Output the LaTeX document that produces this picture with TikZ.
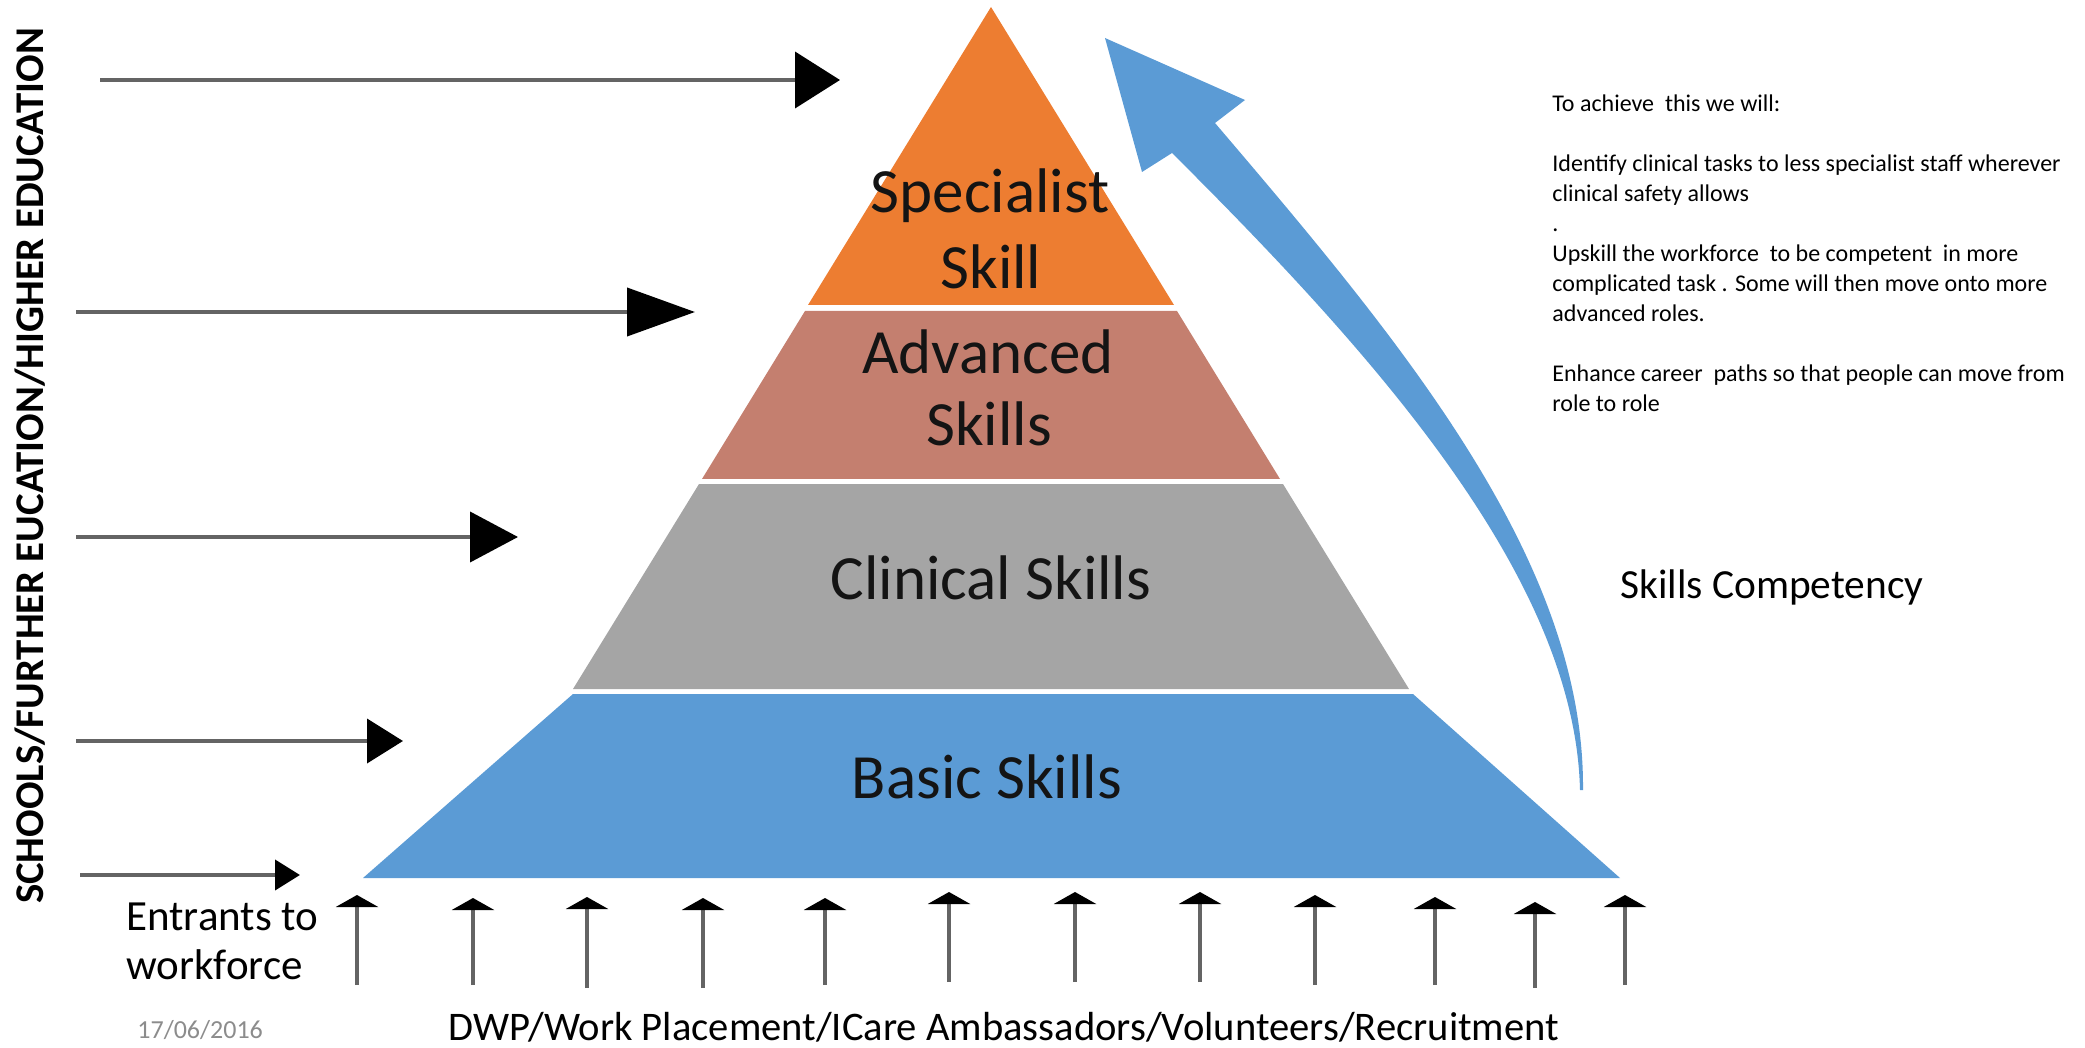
\documentclass[tikz,border=0pt]{standalone}
\usepackage{fontspec}
\setmainfont{Carlito}
\usetikzlibrary{arrows.meta}

\definecolor{specfill}{HTML}{ED7D31}
\definecolor{advfill}{RGB}{196,127,111}
\definecolor{clinfill}{HTML}{A5A5A5}
\definecolor{basicfill}{HTML}{5B9BD5}
\definecolor{shaftgray}{RGB}{100,100,100}
\definecolor{dategray}{RGB}{140,140,140}
\definecolor{labelink}{RGB}{20,20,20}

\begin{document}
\begin{tikzpicture}[x=0.5pt,y=-0.5pt,
  tierlabel/.style={anchor=base, inner sep=0pt, text=labelink, font=\fontsize{31.5}{36}\selectfont},
  plainlabel/.style={anchor=base west, inner sep=0pt, font=\fontsize{21.5}{25}\selectfont},
  feeder/.style={draw=shaftgray, line width=2pt},
  entry/.style={draw=shaftgray, line width=2pt,
    -{Triangle[length=6pt, width=21pt, color=black]}},
]
\useasboundingbox (0,0) rectangle (2085,1048);

% pyramid tiers
\fill[specfill]  (991,7) -- (1174,305) -- (808,305) -- cycle;
\fill[advfill]   (805,311) -- (1177,311) -- (1280,479) -- (702,479) -- cycle;
\fill[clinfill]  (699,484) -- (1283,484) -- (1409,689) -- (573,689) -- cycle;
\fill[basicfill] (573,694) -- (1413,694) -- (1620,878) -- (363,878) -- cycle;

% tier labels
\node[tierlabel] (spec1) at (990,213) {Specialist};
\node[tierlabel] (spec2) at (991,289) {Skill};
\node[tierlabel] (adv1)  at (988,374) {Advanced};
\node[tierlabel] (adv2)  at (989,445) {Skills};
\node[tierlabel] (clin)  at (991,599) {Clinical Skills};
\node[tierlabel] (basic) at (987,798) {Basic Skills};

% rising competency arrow: head, then a tapering curved shaft
\fill[basicfill] (1105,38) -- (1245,100) -- (1215,123)
  .. controls (1400,340) and (1585,560) .. (1583,790)
  -- (1580,790)
  .. controls (1575,580) and (1380,360) .. (1172,153)
  -- (1142,172) -- cycle;

\node[anchor=base west, inner sep=0pt, font=\fontsize{20.7}{25}\selectfont]
  (comp) at (1620,598) {Skills Competency};

% plan text
\node[anchor=north west, inner sep=0pt, align=left, font=\fontsize{12}{15}\selectfont]
  (plan) at (1552,94) {To achieve\ \ this we will:\\[15pt]
  Identify clinical tasks to less specialist staff wherever\\
  clinical safety allows\\
  .\\
  Upskill the workforce\ \ to be competent\ \ in more\\
  complicated task . Some will then move onto more\\
  advanced roles.\\[15pt]
  Enhance career\ \ paths so that people can move from\\
  role to role};

% education sector label
\node[rotate=90, anchor=base, inner sep=0pt, font=\bfseries\fontsize{20.4}{25}\selectfont]
  (sector) at (43,466) {SCHOOLS/FURTHER EUCATION/HIGHER EDUCATION};

% feeder arrows from education into each tier
\coordinate (f1s) at (100,80);  \coordinate (f1t) at (840,80);
\coordinate (f2s) at (76,312);  \coordinate (f2t) at (695,312);
\coordinate (f3s) at (76,537);  \coordinate (f3t) at (518,537);
\coordinate (f4s) at (76,741);  \coordinate (f4t) at (403,741);
\coordinate (f5s) at (80,875);  \coordinate (f5t) at (300,875);
\draw[feeder, -{Triangle[length=22.5pt, width=28pt, color=black]}] (f1s) -- (f1t);
\draw[feeder, -{Triangle[length=34pt, width=24pt, color=black]}] (f2s) -- (f2t);
\draw[feeder, -{Triangle[length=24pt, width=25pt, color=black]}] (f3s) -- (f3t);
\draw[feeder, -{Triangle[length=18pt, width=22pt, color=black]}] (f4s) -- (f4t);
\draw[feeder, -{Triangle[length=12.5pt, width=15pt, color=black]}] (f5s) -- (f5t);

% entrant arrows into the base
\foreach \i/\x/\yb/\yt in {1/357/985/895, 2/473/985/898, 3/587/988/897,
    4/703/988/898, 5/825/985/898, 6/949/982/892, 7/1075/982/892,
    8/1200/982/892, 9/1315/985/895, 10/1435/985/897, 11/1535/988/902,
    12/1625/985/895} {
  \coordinate (e\i s) at (\x,\yb);
  \coordinate (e\i t) at (\x,\yt);
  \draw[entry] (e\i s) -- (e\i t);
}

\node[plainlabel] (entr1) at (126,930) {Entrants to};
\node[plainlabel] (entr2) at (126,979) {workforce};

\node[anchor=base west, inner sep=0pt, text=dategray, font=\fontsize{13}{15}\selectfont]
  (date) at (137,1038) {17/06/2016};

\node[anchor=base, inner sep=0pt, font=\fontsize{20.3}{24}\selectfont]
  (routes) at (1004,1040) {DWP/Work Placement/ICare Ambassadors/Volunteers/Recruitment};

\end{tikzpicture}
\end{document}
